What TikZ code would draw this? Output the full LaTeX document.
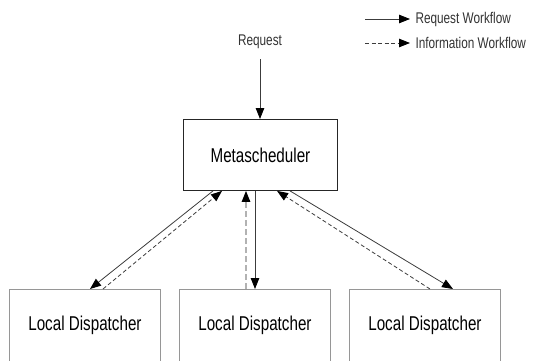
\documentclass[tikz,border=0pt]{standalone}
\usepackage{fontspec}
\setmainfont{Liberation Sans}[FakeStretch=0.76]
\usetikzlibrary{arrows.meta,calc}
\definecolor{line-gr}{RGB}{60, 60, 60}
\definecolor{box-gr}{RGB}{150, 150, 150}
\tikzstyle{a}=[anchor=north west]
\tikzstyle{box}=[a,draw,rectangle,line width=0.9pt,align=center,inner sep=0pt]
\tikzstyle{meta}=[box,draw=black!85,minimum width=154pt,minimum height=71pt,font=\fontsize{20}{22}\selectfont]
\tikzstyle{local}=[box,draw=box-gr,minimum width=151pt,minimum height=72pt,font=\fontsize{20}{22}\selectfont]
\tikzstyle{small}=[font=\fontsize{15.5}{17}\selectfont,color=black!80]
\tikzstyle{arrow}=[draw=line-gr,line width=0.8pt,-{Triangle[length=11pt,width=8.5pt,color=black]}]
\tikzstyle{info}=[arrow,dashed,dash pattern=on 4pt off 2.5pt]
\tikzstyle{infolight}=[info,draw=black!30,line width=1.2pt,dash pattern=on 6pt off 3pt]

\begin{document}
\begin{tikzpicture}[x=1pt,y=-1pt]
    \useasboundingbox (0,0) rectangle (533,360);
    \clip (0,0) rectangle (533,360);

    % legend
    \coordinate (reqa) at (365,19);
    \coordinate (reqb) at (410,19);
    \coordinate (infa) at (365,43);
    \coordinate (infb) at (410,43);
    \draw[arrow] (reqa) -- (reqb);
    \draw[info] (infa) -- (infb);
    \node[small,anchor=west] at (412,19) (reqlabel) {Request Workflow};
    \node[small,anchor=west] at (412,43) (inflabel) {Information Workflow};

    \node[small] at (260,42) (request) {Request};

    \node[meta] at (183,119) (metasched) {Metascheduler};

    \node[local] at (9,289) (ld1) {Local Dispatcher};
    \node[local] at (179,289) (ld2) {Local Dispatcher};
    \node[local] at (349,289) (ld3) {Local Dispatcher};

    \draw[arrow,shorten <=7pt] (request) -- (metasched.north-|request);

    % left
    \draw[arrow] ($(metasched.south west)+(30,0)$) -- ($(ld1.north west)+(81,0)$);
    \draw[info] ($(ld1.north west)+(94,0)$) -- ($(metasched.south west)+(39,0)$);
    % middle
    \draw[infolight] ($(ld2.north west)+(67,0)$) -- ($(metasched.south west)+(63,0)$);
    \draw[arrow] ($(metasched.south west)+(72,0)$) -- ($(ld2.north west)+(76,0)$);
    % right
    \draw[info] ($(ld3.north west)+(81,0)$) -- ($(metasched.south west)+(94,0)$);
    \draw[arrow] ($(metasched.south west)+(107,0)$) -- ($(ld3.north west)+(104,0)$);
\end{tikzpicture}
\end{document}
